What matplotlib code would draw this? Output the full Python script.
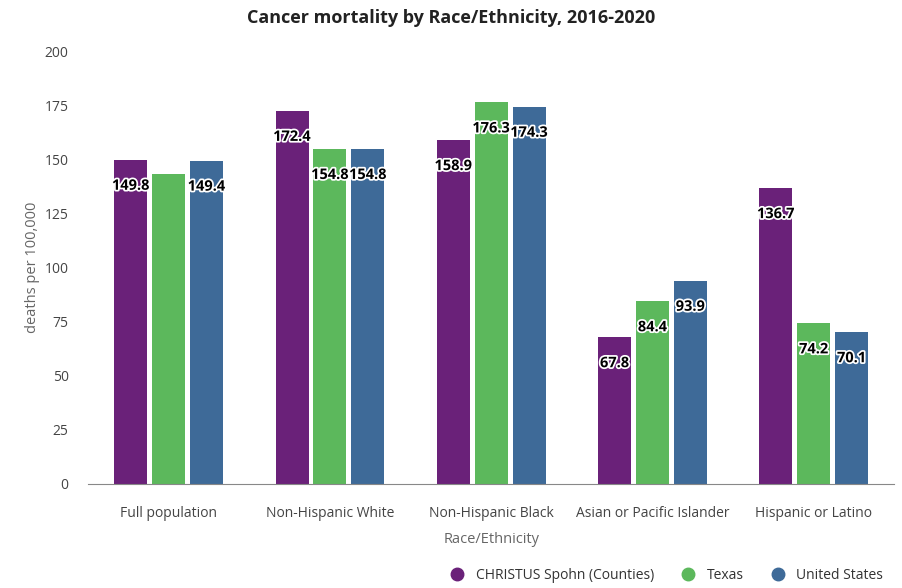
import matplotlib.pyplot as plt
import matplotlib.patheffects as pe
from matplotlib.lines import Line2D
import numpy as np

plt.rcParams['font.family'] = ['Open Sans', 'DejaVu Sans']

categories = ['Full population', 'Non-Hispanic White', 'Non-Hispanic Black',
              'Asian or Pacific Islander', 'Hispanic or Latino']
series_names = ['CHRISTUS Spohn (Counties)', 'Texas', 'United States']
spohn = [149.8, 172.4, 158.9, 67.8, 136.7]
texas = [143.2, 154.8, 176.3, 84.4, 74.2]
usa = [149.4, 154.8, 174.3, 93.9, 70.1]
# the Texas value for the full population carries no label in the original
show_label = [[True] * 5, [False, True, True, True, True], [True] * 5]
colors = ['#6a2179', '#5cb85c', '#3e6a98']

fig = plt.figure(figsize=(9.02, 5.88), dpi=100)
ax = fig.add_axes([0.0976, 0.177, 0.894, 0.736])

x = np.arange(len(categories))
w = 0.205
step = 0.235
for i, (vals, c) in enumerate(zip([spohn, texas, usa], colors)):
    bars = ax.bar(x + (i - 1) * step, vals, width=w, color=c, zorder=2)
    for b, v, show in zip(bars, vals, show_label[i]):
        if not show:
            continue
        ax.annotate(f'{v:.1f}', (b.get_x() + b.get_width() / 2, v),
                    xytext=(0, -26), textcoords='offset pixels',
                    ha='center', va='center', fontsize=10.5, fontweight='bold',
                    color='black', zorder=3,
                    path_effects=[pe.withStroke(linewidth=2.5, foreground='white')])

ax.set_xlim(-0.5, len(categories) - 0.5)
ax.set_ylim(0, 200)
ax.set_yticks(np.arange(0, 201, 25))
ax.set_xticks(x)
ax.set_xticklabels(categories)
ax.tick_params(axis='both', length=0, labelsize=10, labelcolor='#444444')
ax.tick_params(axis='x', pad=16)
ax.tick_params(axis='y', pad=14)
for s in ['top', 'right', 'left']:
    ax.spines[s].set_visible(False)
ax.spines['bottom'].set_color('#888888')

ax.set_xlabel('Race/Ethnicity', fontsize=10.5, color='#666666', labelpad=8)
ax.set_ylabel('deaths per 100,000', fontsize=10.5, color='#666666')
ax.yaxis.set_label_coords(-0.06, 0.5)
fig.suptitle('Cancer mortality by Race/Ethnicity, 2016-2020', fontsize=13,
             fontweight='bold', color='#222222', y=0.985)

handles = [Line2D([], [], marker='o', linestyle='', markersize=9,
                  markerfacecolor=c, markeredgecolor=c) for c in colors]
fig.legend(handles, series_names, loc='lower right', bbox_to_anchor=(0.993, -0.012),
           ncol=3, frameon=False, fontsize=10, labelcolor='#333333',
           handletextpad=0.3, columnspacing=1.5)

fig.savefig('out.png', dpi=100)
